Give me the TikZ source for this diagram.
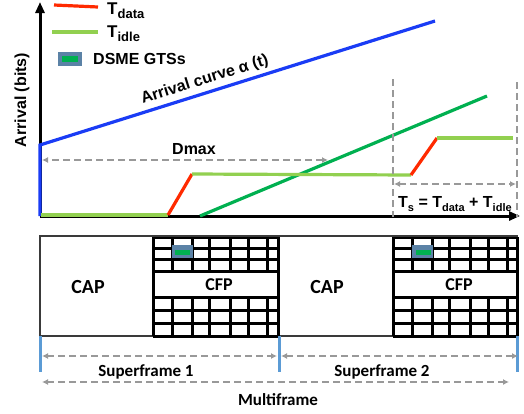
\documentclass[tikz,border=0pt]{standalone}
\usepackage{fontspec}
\setmainfont{Liberation Sans}
\newfontfamily\calib{Carlito}
\usetikzlibrary{arrows.meta}
\definecolor{cblue}{HTML}{1A3CF5}
\definecolor{cred}{HTML}{FF2A00}
\definecolor{clgreen}{HTML}{92D050}
\definecolor{cdgreen}{HTML}{00B050}
\definecolor{cgray}{HTML}{999999}
\definecolor{cgts}{HTML}{5B82A6}
\definecolor{cmark}{HTML}{5B9BD5}
\definecolor{cframe}{HTML}{3A3A3A}
\newcommand{\subtxt}[3]{\lower#1\hbox{\fontsize{#2}{#2}\selectfont #3}}
\begin{document}
\begin{tikzpicture}[x=1pt,y=-1pt,
  curve/.style={line width=3.2pt},
  axisline/.style={line width=3pt,-{Triangle[length=11pt,width=9pt]}},
  dasharrow/.style={cgray,line width=2pt,dash pattern=on 7pt off 4pt,{Latex[length=6pt,width=6pt]}-{Latex[length=6pt,width=6pt]}},
  dashv/.style={cgray,line width=1.8pt,dash pattern=on 7pt off 4pt},
  gridline/.style={line width=3pt,black},
  lbl/.style={font=\bfseries\fontsize{16}{16}\selectfont,inner sep=0pt},
  clbl/.style={font=\calib\bfseries\fontsize{17}{17}\selectfont,inner sep=0pt},
  marker/.style={cmark,line width=3pt}]
\useasboundingbox (0,0) rectangle (524,413);
% ---------- plot ----------
\coordinate (O) at (40,216);
\coordinate (ytip) at (40,2);
\coordinate (xtip) at (520,216);
\draw[axisline] (O) -- (ytip);
\draw[axisline] (O) -- (xtip);
% arrival curve
\coordinate (b0) at (40,216);
\coordinate (b1) at (40,145);
\coordinate (b2) at (435,21);
\draw[curve,cblue] (b0) -- (b1) -- (b2);
\node[lbl,rotate=17.4,anchor=base] (arrlbl) at (206,84) {Arrival curve α (t)};
% service curve
\coordinate (g0) at (200,216);
\coordinate (g1) at (487,96);
\draw[curve,cdgreen] (g0) -- (g1);
% staircase
\coordinate (s0) at (41,215);
\coordinate (s1) at (168,215);
\coordinate (s2) at (192,174);
\coordinate (s3) at (411,175);
\coordinate (s4) at (437,138);
\coordinate (s5) at (513,138);
\draw[curve,clgreen] (s0) -- (s1);
\draw[curve,cred] (s1) -- (s2);
\draw[curve,clgreen] (s2) -- (s3);
\draw[curve,cred] (s3) -- (s4);
\draw[curve,clgreen] (s4) -- (s5);
% Dmax
\coordinate (d0) at (42,160);
\coordinate (d1) at (328,160);
\draw[dasharrow] (d1) -- (d0);
\node[lbl] (dmax) at (194,149) {Dmax};
% Ts
\coordinate (v0t) at (393,79);
\coordinate (v0b) at (393,217);
\coordinate (v1t) at (517,82);
\coordinate (v1b) at (517,217);
\draw[dashv] (v0t) -- (v0b);
\draw[dashv] (v1t) -- (v1b);
\coordinate (t0) at (394,184);
\coordinate (t1) at (516,184);
\draw[dasharrow] (t0) -- (t1);
\node[lbl,anchor=base west] (tslbl) at (398,207) {T\subtxt{4pt}{11}{s} = T\subtxt{4pt}{11}{data} + T\subtxt{4pt}{11}{idle}};
% y label
\node[lbl,rotate=90] (ylbl) at (22,100) {Arrival (bits)};
% legend
\coordinate (lr0) at (54,5);
\coordinate (lr1) at (98,7);
\draw[curve,cred] (lr0) -- (lr1);
\node[lbl,anchor=base west] (ltd) at (107,14) {\fontsize{17}{17}\selectfont T\subtxt{4.5pt}{13}{data}};
\coordinate (lg0) at (52,32);
\coordinate (lg1) at (98,32);
\draw[curve,clgreen] (lg0) -- (lg1);
\node[lbl,anchor=base west] (lti) at (107,37) {\fontsize{17}{17}\selectfont T\subtxt{4pt}{13}{idle}};
\fill[cgts] (58,52) rectangle (82,66);
\fill[cdgreen] (62,56) rectangle (78,62);
\node[lbl,anchor=base west] (lgts) at (93,64) {DSME GTSs};
% ---------- superframe structure ----------
\draw[cframe,line width=2pt,fill=white] (40,236) rectangle (153,336);
\draw[cframe,line width=2pt,fill=white] (279,236) rectangle (393,336);
\foreach \xo/\xe in {153/278,393/517}{
  \fill[white] (\xo,237) rectangle (\xe,336);
  \foreach \dx in {0,19,39,56,77,95,114}{
    \draw[gridline] (\xo+\dx,237) -- (\xo+\dx,271);
    \draw[gridline] (\xo+\dx,297) -- (\xo+\dx,336);
  }
  \draw[gridline] (\xo,237) -- (\xo,336);
  \draw[gridline] (\xe,237) -- (\xe,336);
  \foreach \yy in {237,248,259,271,297,310,323,336}{
    \draw[gridline] (\xo,\yy) -- (\xe,\yy);
  }
}
\draw[cframe,line width=2pt] (40,236) -- (518,236);
% GTS markers
\fill[cgts] (172,245) rectangle (193,258);
\fill[cdgreen] (175,250) rectangle (190,255);
\fill[cgts] (412,245) rectangle (433,258);
\fill[cdgreen] (416,250) rectangle (431,255);
% labels
\node[clbl,font=\calib\bfseries\fontsize{20}{20}\selectfont] (cap1) at (88,287) {CAP};
\node[clbl,font=\calib\bfseries\fontsize{20}{20}\selectfont] (cap2) at (327,287) {CAP};
\node[clbl,font=\calib\bfseries\fontsize{18}{18}\selectfont] (cfp1) at (219,285) {CFP};
\node[clbl,font=\calib\bfseries\fontsize{18}{18}\selectfont] (cfp2) at (459,285) {CFP};
% markers
\coordinate (m0t) at (40,336); \coordinate (m0b) at (40,372);
\coordinate (m1t) at (279,336); \coordinate (m1b) at (279,372);
\coordinate (m2t) at (517,336); \coordinate (m2b) at (517,372);
\draw[marker] (m0t) -- (m0b);
\draw[marker] (m1t) -- (m1b);
\draw[marker] (m2t) -- (m2b);
% superframe arrows
\coordinate (sf1a) at (42,356); \coordinate (sf1b) at (277,356);
\coordinate (sf2a) at (281,356); \coordinate (sf2b) at (518,356);
\coordinate (mfa) at (42,382); \coordinate (mfb) at (509,382);
\draw[dasharrow] (sf1a) -- (sf1b);
\draw[dasharrow] (sf2a) -- (sf2b);
\draw[dasharrow] (mfa) -- (mfb);
\node[clbl] (sf1) at (146,372) {Superframe 1};
\node[clbl] (sf2) at (382,372) {Superframe 2};
\node[clbl] (mf) at (278,400) {Multiframe};
\end{tikzpicture}
\end{document}
